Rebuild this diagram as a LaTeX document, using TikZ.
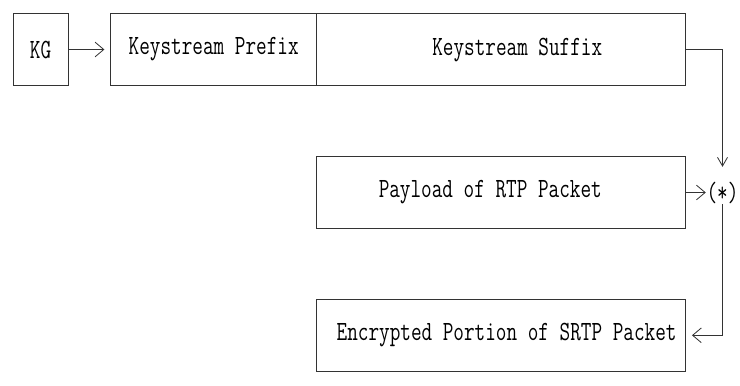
\documentclass[tikz,border=0pt]{standalone}
\usepackage{graphicx}
\usetikzlibrary{arrows.meta}
\newcommand{\talltxt}[1]{\scalebox{1}[1.35]{#1}}

\begin{document}
\begin{tikzpicture}[x=0.03cm, y=-0.03cm,
    box/.style={draw=black!80, line width=0.7pt, minimum height=2.142cm, inner sep=0pt},
    txt/.style={font=\ttfamily\fontsize{17.6pt}{20pt}\selectfont},
    rtip/.style={-{Straight Barb[length=2.6mm, width=4.4mm]}, draw=black!80, line width=0.7pt},
    dtip/.style={-{Straight Barb[length=2.6mm, width=3mm]}, draw=black!80, line width=0.7pt}]
    \useasboundingbox (0,0) rectangle (740,385);
    % key generator and keystream
    \node[box, txt, minimum width=1.65cm] (kg) at (40.5,49.5) {\talltxt{KG}};
    \node[box, txt, minimum width=6.183cm] (prefix) at (213.7,49.5) {\talltxt{Keystream Prefix}};
    \node[box, minimum width=11.067cm,
        label={[txt, xshift=0.48cm]center:\talltxt{Keystream Suffix}}] (suffix) at (501.25,49.5) {};
    % packets
    \node[box, minimum width=11.067cm,
        label={[txt, xshift=-0.33cm]center:\talltxt{Payload of RTP Packet}}] (payload) at (501.25,192.5) {};
    \node[box, minimum width=11.067cm,
        label={[txt, xshift=0.16cm]center:\talltxt{Encrypted Portion of SRTP Packet}}] (enc) at (501.25,335.3) {};
    \node[txt, inner sep=0.5pt] (xor) at (722.5,192.5) {\talltxt{(*)}};
    % connectors
    \draw[rtip, shorten >=5pt] (kg) -- (prefix);
    \draw[dtip, shorten >=12pt] (suffix.east) -| (xor.north);
    \draw[rtip] (payload) -- (xor);
    \draw[rtip, shorten >=5pt] (xor.south) |- (enc.east);
\end{tikzpicture}
\end{document}
